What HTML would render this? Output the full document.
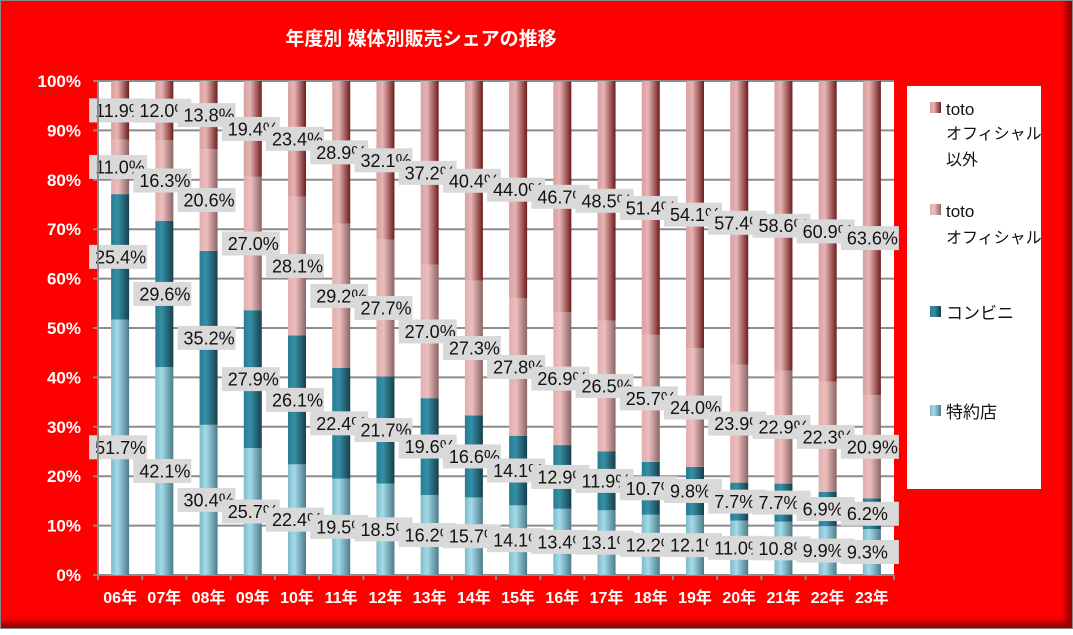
<!DOCTYPE html>
<html><head><meta charset="utf-8">
<style>
html,body{margin:0;padding:0;background:#fff}
#wrap{position:relative;width:1073px;height:629px;background:#ff0000;box-sizing:border-box;border:1px solid #888;box-shadow:inset -6px -6px 6px #900;font-family:"Liberation Sans","Noto Sans CJK JP",sans-serif}
svg text{font-family:"Liberation Sans","Noto Sans CJK JP",sans-serif}
</style></head>
<body>
<div id="wrap">
<svg id="chart" width="1073" height="629">
<defs>
<linearGradient id="gA" x1="0" x2="1"><stop offset="0" stop-color="#7fb9c8"/><stop offset="0.35" stop-color="#a3dbea"/><stop offset="1" stop-color="#4d7c88"/></linearGradient>
<linearGradient id="gB" x1="0" x2="1"><stop offset="0" stop-color="#287a90"/><stop offset="0.35" stop-color="#3590a8"/><stop offset="1" stop-color="#173f4b"/></linearGradient>
<linearGradient id="gC" x1="0" x2="1"><stop offset="0" stop-color="#e2aeae"/><stop offset="0.4" stop-color="#edbdbd"/><stop offset="1" stop-color="#8a6464"/></linearGradient>
<linearGradient id="gD" x1="0" x2="1"><stop offset="0" stop-color="#d9a0a0"/><stop offset="0.35" stop-color="#e6b3b3"/><stop offset="1" stop-color="#6e1c1c"/></linearGradient>
</defs>
<rect x="97" y="80" width="796" height="494" fill="#fff"/>
<text x="420" y="44" fill="#fff" font-size="19" font-weight="bold" text-anchor="middle">年度別  媒体別販売シェアの推移</text>
<g id="grid"></g><g id="bars"></g><g id="labels"></g><g id="axes"></g>
<rect x="906" y="85" width="134" height="403" fill="#fff"/>
<g>
<rect x="929" y="101" width="11" height="11" fill="url(#gD)"/>
<text x="945" y="114" font-size="17" fill="#111">toto</text>
<text x="945" y="138" font-size="16" fill="#111">オフィシャル</text>
<text x="945" y="164" font-size="16" fill="#111">以外</text></g>
<g>
<rect x="929" y="203" width="11" height="11" fill="url(#gC)"/>
<text x="945" y="216" font-size="17" fill="#111">toto</text>
<text x="945" y="242" font-size="16" fill="#111">オフィシャル</text></g>
<g>
<rect x="929" y="305" width="11" height="11" fill="url(#gB)"/>
<text x="945" y="318" font-size="17" fill="#111">コンビニ</text></g>
<g>
<rect x="929" y="404" width="11" height="11" fill="url(#gA)"/>
<text x="945" y="417" font-size="17" fill="#111">特約店</text></g>
</svg>
</div>
<script>
const categories=["06年","07年","08年","09年","10年","11年","12年","13年","14年","15年","16年","17年","18年","19年","20年","21年","22年","23年"];
const dealer=[51.7,42.1,30.4,25.7,22.4,19.5,18.5,16.2,15.7,14.1,13.4,13.1,12.2,12.1,11.0,10.8,9.9,9.3];
const konbini=[25.4,29.6,35.2,27.9,26.1,22.4,21.7,19.6,16.6,14.1,12.9,11.9,10.7,9.8,7.7,7.7,6.9,6.2];
const official=[11.0,16.3,20.6,27.0,28.1,29.2,27.7,27.0,27.3,27.8,26.9,26.5,25.7,24.0,23.9,22.9,22.3,20.9];
const other=[11.9,12.0,13.8,19.4,23.4,28.9,32.1,37.2,40.4,44.0,46.7,48.5,51.4,54.1,57.4,58.6,60.9,63.6];
const yTicks=[0,10,20,30,40,50,60,70,80,90,100];
const NS="http://www.w3.org/2000/svg";
const X0=97,X1=893,Y0=574,Y1=80;
const step=(X1-X0)/categories.length;
const xc=i=>X0+step*(i+0.5);
const y=v=>Y0-(v/100)*(Y0-Y1);
function mk(tag,attrs,parent){const e=document.createElementNS(NS,tag);for(const k in attrs)e.setAttribute(k,attrs[k]);parent.appendChild(e);return e;}
const grid=document.getElementById('grid'),bars=document.getElementById('bars'),labels=document.getElementById('labels'),axes=document.getElementById('axes');
yTicks.forEach(t=>{
  const l=mk('line',{x1:X0-5,x2:X1,y1:y(t),y2:y(t),stroke:'#8c8c8c','stroke-width':2},grid);
  
  
  const tx=mk('text',{x:80,y:y(t)+6,'text-anchor':'end','font-size':17,'font-weight':'bold',fill:'#fff'},axes);
  tx.textContent=t+'%';
  
  
});
mk('line',{x1:X0,x2:X0,y1:Y1,y2:Y0,stroke:'#8c8c8c','stroke-width':2},axes);
for(let i=0;i<=categories.length;i++){mk('line',{x1:X0+step*i,x2:X0+step*i,y1:Y0,y2:Y0+5,stroke:'#8c8c8c','stroke-width':2},axes);}
const series=[[dealer,'gA','dealer'],[konbini,'gB','konbini'],[official,'gC','official'],[other,'gD','other']];
categories.forEach((c,i)=>{
  let acc=0;
  series.forEach(([arr,g,n])=>{
    const v=arr[i];
    const r=mk('rect',{x:xc(i)-9,y:y(acc+v),width:18,height:y(acc)-y(acc+v),fill:'url(#'+g+')'},bars);
    
    
    acc+=v;
  });
  const tx=mk('text',{x:xc(i),y:602,'text-anchor':'middle','font-size':16,'font-weight':'bold',fill:'#fff'},axes);
  tx.textContent=c;
  
  
});
categories.forEach((c,i)=>{
  let acc=0;
  series.forEach(([arr,g,n])=>{
    const v=arr[i];const mid=y(acc+v/2);acc+=v;
    const grp=mk('g',{},labels);
    
    
    mk('rect',{x:xc(i)-31,y:mid-12,width:58,height:24,fill:'#d9d9d9'},grp);
    const t=mk('text',{x:xc(i)-25,y:mid+6.5,'font-size':18,fill:'#111'},grp);
    t.textContent=v.toFixed(1)+'%';
  });
});
</script>
</body></html>
